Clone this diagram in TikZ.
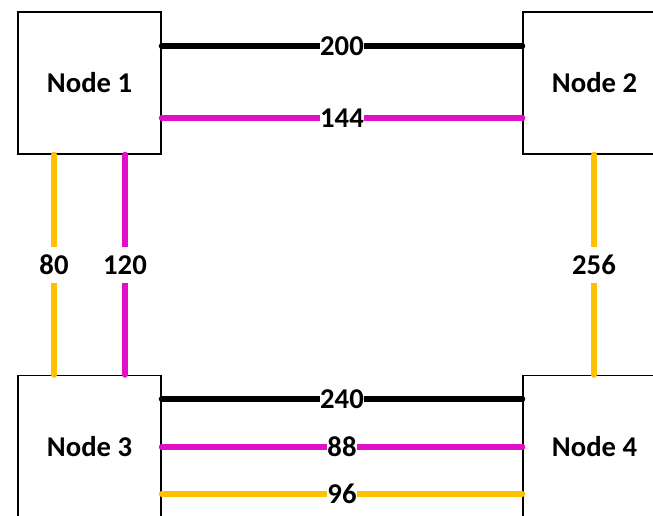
\documentclass[tikz,border=0pt]{standalone}
\usepackage{fontspec}
\setmainfont{Carlito}
\definecolor{linkpink}{RGB}{225,15,200}
\definecolor{linkgold}{RGB}{255,192,0}

\begin{document}
\begin{tikzpicture}[x=0.75pt,y=-0.75pt,
    box/.style={draw,line width=1.1pt,minimum width=107.25pt,minimum height=106.5pt,
        inner sep=0pt,font=\bfseries\fontsize{21.5}{26}\selectfont},
    link/.style={line width=4.5pt,line cap=round},
    lbl/.style={fill=white,text=black,inner xsep=0.5pt,inner ysep=0pt,minimum height=27pt,
        font=\bfseries\fontsize{21.5}{26}\selectfont}]
    \useasboundingbox (0,0) rectangle (653,516);
    % the four nodes (the right and lower ones run off the page)
    \node[box] (n1) at (89.5,83) {Node 1};
    \node[box] (n2) at (594.5,83) {Node 2};
    \node[box] (n3) at (89.5,446.5) {Node 3};
    \node[box] (n4) at (594.5,446.5) {Node 4};
    % horizontal links: from/to/row/colour/weight
    \foreach \a/\b/\y/\c/\w in {n1/n2/46/black/200, n1/n2/118/linkpink/144,
        n3/n4/399/black/240, n3/n4/447/linkpink/88, n3/n4/494/linkgold/96} {
        \draw[link,\c] (\a.east |- 0,\y) -- node[lbl] {\w} (\b.west |- 0,\y);
    }
    % vertical links
    \foreach \a/\b/\x/\c/\w in {n1/n3/54/linkgold/80, n1/n3/125/linkpink/120,
        n2/n4/594/linkgold/256} {
        \draw[link,\c] (\a.south -| \x,0) -- node[lbl] {\w} (\b.north -| \x,0);
    }
\end{tikzpicture}
\end{document}
